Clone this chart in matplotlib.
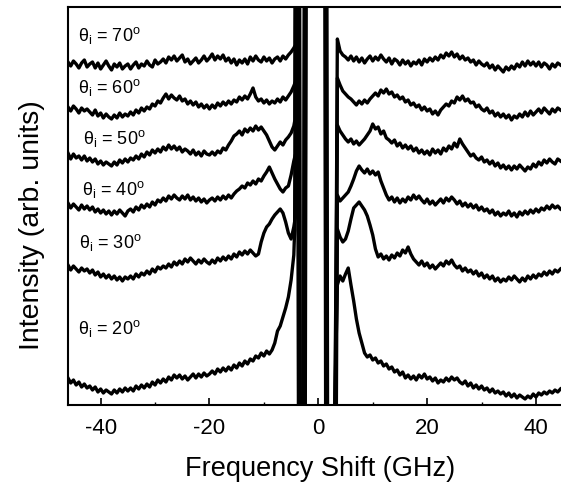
import matplotlib
matplotlib.use("Agg")
import matplotlib.pyplot as plt
import numpy as np

plt.rcParams['font.family'] = ['Liberation Sans', 'DejaVu Sans']
plt.rcParams['axes.unicode_minus'] = False

# ---------------- data (intensity in arbitrary units) ----------------
angles = [70, 60, 50, 40, 30, 20]

freq_left = -46.0 + 0.5 * np.arange(84)    # -46.0 ... -4.5 GHz
freq_right = 3.5 + 0.5 * np.arange(83)     # 3.5 ... 44.5 GHz

left_70 = [343, 339, 344, 341, 337, 342, 345, 338, 341, 343, 337,
           342, 336, 340, 344, 339, 335, 341, 338, 342, 336, 339, 341,
           336, 340, 343, 337, 341, 339, 344, 340, 338, 345, 341, 343,
           346, 342, 348, 345,
           349, 344, 347, 350, 343, 346, 341, 344,
           347, 342, 345, 349, 344, 347, 351, 345, 349, 346,
           350, 344, 347, 342, 346, 340, 345, 342,
           346, 341, 348, 344, 349, 345,
           343, 348, 344, 347, 342, 346,
           348, 344, 349, 346, 350, 353, 357]
right_70 = [366, 354, 350, 348, 345, 349,
            344, 348, 343, 347, 342, 346,
            349, 344, 348, 345, 350, 346,
            343, 347, 341, 346, 344, 340,
            345, 341, 344, 339, 343, 341,
            345, 340, 346, 343, 347, 344,
            348, 345, 350, 347, 352, 349, 353, 348,
            351, 346, 349, 345,
            347, 343, 345, 340, 344, 341,
            339, 342, 337, 340, 335, 339, 336, 333, 338,
            335, 339, 336, 341, 338, 343, 339, 344, 340, 343,
            339, 343, 338, 342, 340, 336, 341, 338, 342, 340]

left_60 = [298, 294, 299, 296, 292, 297, 294, 296,
           293, 290, 295, 289, 292, 287, 291, 288,
           286, 290, 287, 292, 288, 291, 289,
           293, 290, 295, 292, 297, 294,
           298, 296, 301, 299, 304, 302,
           307, 311, 306, 310, 307, 305,
           309, 304, 306, 301, 304, 300,
           303, 298, 301, 297, 300, 296,
           300, 297, 302, 299, 303, 300,
           304, 301, 305, 303, 308, 305,
           309, 306, 311, 317,
           308, 304, 306,
           302, 305, 301, 304, 302,
           306, 303, 308, 305, 309, 313, 319]
right_60 = [327, 320, 314, 311, 308, 306,
            303, 300, 304, 301, 305, 302,
            306, 309, 312, 309, 315, 312, 316,
            311, 313, 308, 310, 306,
            308, 303, 305, 300, 302, 298,
            300, 295, 298, 294, 296, 291, 294, 290,
            295, 298, 301, 299,
            304, 302, 308, 305,
            309, 304, 306, 302,
            303, 298, 300, 296, 294,
            297, 292, 294, 289, 292, 288,
            291, 287, 290, 285, 289, 287,
            291, 288, 293, 289, 294, 290,
            293, 296, 292, 297, 294, 291, 296, 293, 297, 295]

left_50 = [252, 246, 251, 247, 249,
           245, 249, 244, 247, 243,
           246, 241, 244, 240, 243, 241,
           239, 243, 240, 245, 242, 246,
           243, 247, 245, 249, 246, 251,
           248, 253, 250, 255, 252, 256,
           253, 258, 255, 260, 256, 259,
           255, 258, 253, 256, 254,
           251, 255, 250, 253, 249, 254, 251, 250, 253,
           250, 254, 252, 257, 255,
           260, 264, 269, 271,
           274, 270, 276, 273, 277,
           274, 279, 275, 278,
           274, 270, 264, 258,
           255, 259, 263,
           260, 265, 268, 272, 279]
right_50 = [280, 274, 270, 266, 263,
            266, 261, 264, 260, 263,
            266, 270, 274, 281, 276,
            278, 271, 274, 267, 265,
            262, 265, 259, 262, 257, 260,
            256, 259, 254, 257, 252, 255, 251,
            254, 250, 256, 252, 255, 251, 257, 254, 259,
            256, 262, 258, 266, 261,
            257, 253, 249, 251, 247,
            245, 248, 243, 245, 241, 244,
            239, 242, 237, 240, 236, 239,
            235, 239, 236, 240, 237, 234, 238,
            236, 241, 238, 243, 240, 245, 242, 246, 243, 241, 246, 244]

left_40 = [202, 197, 201, 198, 195, 200, 196, 199,
           195, 198, 193, 196, 192, 195, 191, 194,
           190, 194, 191, 195, 192, 189, 194,
           196, 193, 198, 195, 200, 197,
           201, 198, 203, 200, 205, 203,
           207, 204, 209, 206, 210, 207,
           205, 209, 206, 210, 205, 208,
           204, 207, 203, 206, 202, 205, 207,
           204, 208, 205, 209, 206, 210,
           207, 211, 214, 216,
           219, 217, 222, 220,
           224, 221, 226, 224,
           229, 233, 238, 232,
           226, 221, 216, 213,
           217, 219, 230, 244]
right_40 = [210, 204, 207, 210, 213,
            219, 226, 234, 239, 235,
            232, 236, 231, 234, 230, 233,
            224, 217, 210, 205,
            208, 203, 207, 202, 206,
            203, 208, 205, 210, 206, 209, 205,
            202, 206, 201, 204, 200, 203,
            206, 202, 207, 204, 208, 205,
            201, 204, 199, 202, 198, 201,
            197, 200, 195, 198, 194, 196,
            192, 195, 190, 193, 189, 192,
            190, 194, 189, 192, 188, 193, 190,
            194, 191, 195, 192, 196, 193, 197, 195, 199, 196, 200, 197, 199, 196]

left_30 = [140, 135, 139, 136, 133, 137, 134, 136,
           132, 135, 130, 133, 128, 131, 127, 130,
           126, 129, 125, 128, 124, 128, 126,
           129, 126, 131, 128, 132, 130,
           134, 131, 136, 133, 138, 136,
           139, 137, 141, 138, 143, 140,
           144, 141, 146, 143, 147, 144,
           141, 145, 142, 146, 143, 141,
           145, 142, 147, 144, 148, 145,
           149, 146, 151, 148, 153, 150,
           154, 151, 155, 152, 149, 151,
           163, 172, 178,
           181, 186, 190, 193, 196,
           192, 183, 172, 166, 178]
right_30 = [176, 168, 163, 166,
            174, 186, 197, 200,
            203, 199, 195, 189,
            180, 170, 156, 148,
            151, 146, 149, 145, 150, 147,
            152, 149, 155, 152, 158,
            151, 146, 143, 140, 144,
            139, 142, 137, 140, 136, 139,
            142, 139, 144, 141, 145, 140,
            137, 139, 134, 137, 133, 135,
            131, 134, 129, 132, 127, 130,
            126, 129, 124, 127, 123, 126,
            124, 128, 125, 129, 126, 123,
            127, 124, 129, 126, 130, 127, 131, 129, 133, 130, 134, 131, 135, 133, 136]

left_20 = [27, 22, 25, 20, 23, 18, 21, 17,
           19, 15, 18, 13, 16, 12, 15, 13,
           11, 15, 12, 16, 13, 17, 14,
           17, 14, 19, 16, 20, 17,
           21, 18, 23, 20, 25, 22,
           26, 23, 28, 25, 30, 27,
           30, 26, 29, 25, 28, 31,
           27, 31, 28, 32, 29, 31,
           34, 31, 36, 33, 37, 34,
           38, 35, 40, 37, 42, 39,
           44, 41, 46, 44, 49, 47,
           52, 49, 54, 51, 55,
           62, 74, 79,
           88, 97, 108, 125, 150]
right_20 = [120, 129, 124, 131,
            137, 120, 104, 86,
            72, 62, 52, 48,
            50, 45, 47, 42,
            44, 39, 41, 36, 38, 33,
            35, 30, 33, 27, 30, 26,
            29, 25, 30, 27, 31, 26,
            28, 24, 27, 22, 25, 23,
            27, 24, 28, 25, 27, 23,
            21, 24, 19, 22, 17, 20,
            16, 19, 15, 17, 13, 16, 12, 14,
            11, 13, 9, 12, 8, 11, 7, 10, 8, 6,
            9, 7, 11, 8, 12, 10, 13, 11, 14, 12, 15, 13, 16]

# central (laser line, off-scale / blanked) region
center_freq = [-4.2, -3.8, -3.5, -2.6, -2.2, 1.2, 1.5, 3.1]
center_shift = [0.0, 0.12, -0.1, 0.2, 0.05, -0.15]
center_level = [360, 325, 285, 255, 190, 175]
TOP, BOT = 1000, -20

lefts = [left_70, left_60, left_50, left_40, left_30, left_20]
rights = [right_70, right_60, right_50, right_40, right_30, right_20]

# ---------------- figure ----------------
fig = plt.figure(figsize=(5.61, 4.83), dpi=100)
ax = fig.add_axes([68 / 561, 1 - 405 / 483, 493 / 561, 398 / 483])

for k in range(len(angles)):
    cx = np.array(center_freq) + center_shift[k]
    cy = [center_level[k], TOP, BOT, BOT, TOP, TOP, BOT, BOT]
    x = np.concatenate([freq_left, cx, freq_right])
    y = np.concatenate([lefts[k], cy, rights[k]])
    ax.plot(x, y, color='black', lw=2.4, solid_joinstyle='round')

ax.set_xlim(-46.0, 44.6)
ax.set_ylim(0, 398)

# labels for each spectrum
label_pos = [(-44.2, 364), (-44.2, 312), (-43.3, 261), (-43.5, 210), (-43.9, 157), (-44.2, 71)]
for ang, (lx, ly) in zip(angles, label_pos):
    ax.text(lx, ly, 'θ$_\\mathregular{i}$ = %d$^\\mathregular{o}$' % ang,
            fontsize=13, ha='left', va='baseline')

ax.set_xticks([-40, -20, 0, 20, 40])
ax.set_xticks([-30, -10, 10, 30], minor=True)
ax.set_yticks([])
ax.tick_params(axis='x', which='major', direction='in', length=5, width=1.2,
               labelsize=16, pad=9, top=False)
ax.tick_params(axis='x', which='minor', direction='in', length=2.5, width=1.0, top=False)

for s in ['left', 'bottom', 'top']:
    ax.spines[s].set_linewidth(1.5)
ax.spines['right'].set_visible(False)

ax.set_xlabel('Frequency Shift (GHz)', fontsize=19.5)
ax.set_ylabel('Intensity (arb. units)', fontsize=20.5)
ax.xaxis.set_label_coords(0.511, -0.128)
ax.yaxis.set_label_coords(-0.047, 0.452)

fig.savefig('out.png', dpi=100)
